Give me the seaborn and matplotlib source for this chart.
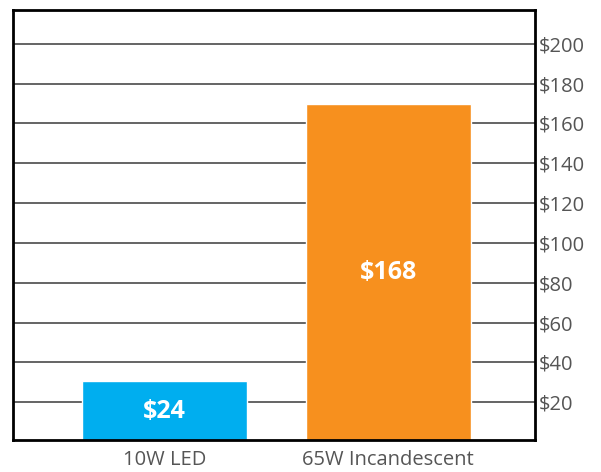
import pandas as pd
import seaborn as sns
import matplotlib.pyplot as plt

# values
categories = ["10W LED", "65W Incandescent"]
bar_heights = [30.5, 170]
bar_labels = ["$24", "$168"]
bar_colors = ["#00AEEF", "#F7901E"]
y_ticks = [20, 40, 60, 80, 100, 120, 140, 160, 180, 200]

df = pd.DataFrame({"bulb": categories, "cost": bar_heights})

sns.set_theme(style="white")
plt.rcParams["font.family"] = ["Open Sans", "DejaVu Sans"]

fig = plt.figure(figsize=(6.01, 4.72), dpi=100)
ax = fig.add_axes([13 / 601, 1 - 440 / 472, (535 - 13) / 601, 430 / 472])

# gridlines first so bars sit on top
for t in y_ticks:
    ax.axhline(t, color="#3a3a3a", lw=1.1, zorder=0)

sns.barplot(data=df, x="bulb", y="cost", hue="bulb", palette=bar_colors,
            width=0.735, saturation=1, legend=False, ax=ax, zorder=2)

for i, (h, lab) in enumerate(zip(bar_heights, bar_labels)):
    ax.text(i, h / 2, lab, ha="center", va="center", color="white",
            fontsize=18, fontweight="bold", zorder=3)

ax.set_xlim(-0.675, 1.655)
ax.set_ylim(1, 217)
ax.set_yticks(y_ticks)
ax.set_yticklabels([f"${t}" for t in y_ticks])
ax.yaxis.tick_right()
ax.tick_params(axis="y", length=0, pad=3, labelsize=14.5, labelcolor="#555555")
ax.tick_params(axis="x", length=0, pad=7, labelsize=14.5, labelcolor="#555555")
ax.set_xlabel("")
ax.set_ylabel("")

for side in ["left", "right", "top", "bottom"]:
    ax.spines[side].set_visible(True)
    ax.spines[side].set_color("black")
    ax.spines[side].set_linewidth(2)

fig.savefig("out.png", dpi=100)
